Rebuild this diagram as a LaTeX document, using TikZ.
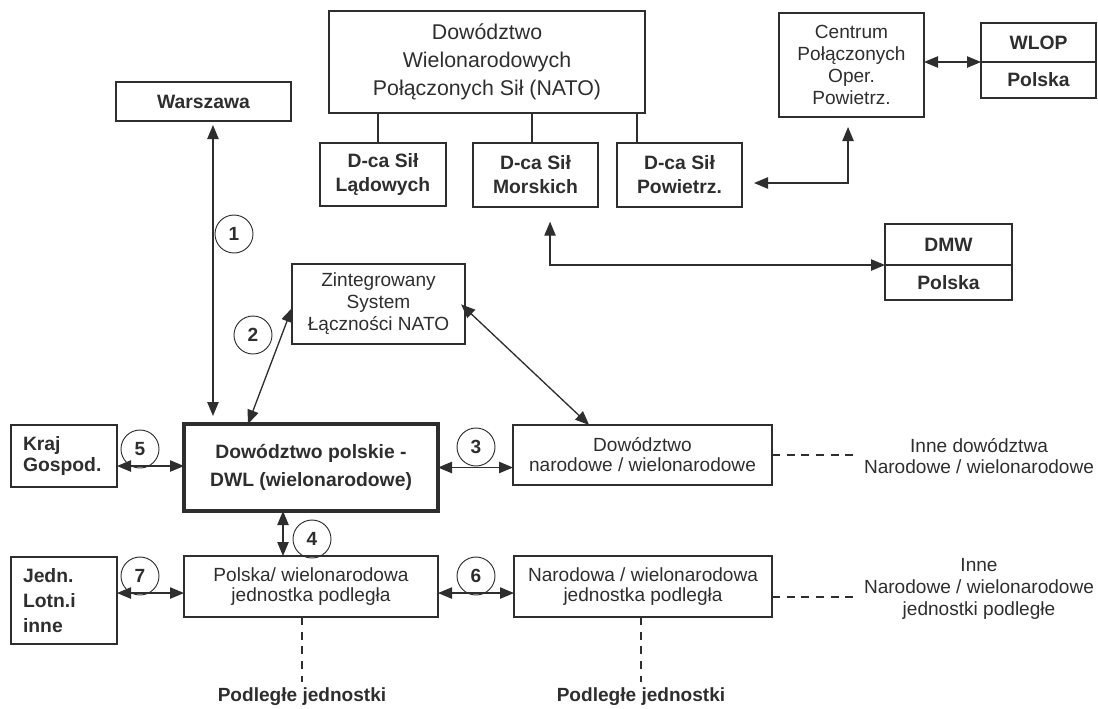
\documentclass[tikz,border=0pt]{standalone}
\usepackage{fontspec}
\setmainfont{Liberation Sans}
\usetikzlibrary{arrows.meta,positioning}

\definecolor{ink}{gray}{0.18}

\begin{document}
\begin{tikzpicture}[x=0.75pt,y=-0.75pt,
    font=\fontsize{14.3}{16.5}\selectfont,
    every node/.style={text=ink},
    box/.style={draw=ink,line width=1pt,align=center,inner sep=0pt,outer sep=0pt},
    leftbox/.style={box,align=left,inner xsep=9pt,text width=61.5pt},
    num/.style={circle,draw=ink,line width=0.7pt,minimum size=28.5pt,inner sep=0pt,font=\bfseries\fontsize{14.3}{16}\selectfont},
    link/.style={draw=ink,{Triangle[length=10.5pt,width=8.5pt]}-{Triangle[length=10.5pt,width=8.5pt]},line width=1pt},
    tie/.style={draw=ink,line width=1pt},
    dashline/.style={draw=ink,line width=1pt,dash pattern=on 6pt off 5pt}]

    \useasboundingbox (0,0) rectangle (1098,708);

    % top row
    \node[box,minimum width=131.25pt,minimum height=29.25pt,font=\bfseries\fontsize{14.5}{16}\selectfont] (war) at (203.5,101.5) {Warszawa};
    \node[box,minimum width=237pt,minimum height=76.5pt,font=\fontsize{16}{21}\selectfont] (nato) at (487,62) {Dowództwo\\Wielonarodowych\\Połączonych Sił (NATO)};
    \node[box,minimum width=94.5pt,minimum height=47.25pt,font=\bfseries\fontsize{14.5}{18}\selectfont] (lad) at (383,174.5) {D-ca Sił\\Lądowych};
    \node[box,minimum width=93.75pt,minimum height=48pt,font=\bfseries\fontsize{14.5}{18}\selectfont] (mor) at (535.5,175) {D-ca Sił\\Morskich};
    \node[box,minimum width=93.75pt,minimum height=48pt,font=\bfseries\fontsize{14.5}{18}\selectfont] (pow) at (679.5,175) {D-ca Sił\\Powietrz.};
    \node[box,minimum width=108.75pt,minimum height=78pt] (cen) at (851.5,65) {Centrum\\Połączonych\\Oper.\\Powietrz.};
    \node[box,minimum width=86.25pt,minimum height=29.25pt,font=\bfseries\fontsize{14.5}{16}\selectfont] (wlop) at (1038.5,42.5) {WLOP};
    \node[box,minimum width=86.25pt,minimum height=27pt,font=\bfseries\fontsize{14.5}{16}\selectfont,below=0pt of wlop] (wlpl) {Polska};
    \node[box,minimum width=95.25pt,minimum height=30.75pt,font=\bfseries\fontsize{14.5}{16}\selectfont] (dmw) at (948.5,244.5) {DMW};
    \node[box,minimum width=95.25pt,minimum height=26.25pt,font=\bfseries\fontsize{14.5}{16}\selectfont,below=0pt of dmw] (dmpl) {Polska};

    % middle
    \node[box,minimum width=129.75pt,minimum height=60pt] (zsl) at (378.5,304) {Zintegrowany\\System\\Łączności NATO};
    \node[leftbox,minimum height=46.5pt,font=\bfseries\fontsize{14.5}{15.5}\selectfont] (kraj) at (64,456) {Kraj\\Gospod.};
    \node[box,line width=3.5pt,minimum width=190.5pt,minimum height=65.25pt,font=\bfseries\fontsize{14.5}{21}\selectfont] (dwl) at (311,467.5) {Dowództwo polskie -\\DWL (wielonarodowe)};
    \node[box,minimum width=194.25pt,minimum height=45pt,font=\fontsize{14.3}{15}\selectfont] (dnar) at (642.5,455) {Dowództwo\\narodowe / wielonarodowe};
    \node[align=center,inner sep=6pt,font=\fontsize{14.3}{15.5}\selectfont] (inne1) at (979,456) {Inne dowództwa\\Narodowe / wielonarodowe};

    % bottom
    \node[leftbox,minimum height=65.25pt,font=\bfseries\fontsize{14.5}{18.75}\selectfont] (jedn) at (64,600.5) {Jedn.\\Lotn.i\\inne};
    \node[box,minimum width=190.5pt,minimum height=45.75pt,font=\fontsize{14.3}{15}\selectfont] (pol) at (311,586.5) {Polska/ wielonarodowa\\jednostka podległa};
    \node[box,minimum width=193.5pt,minimum height=45.75pt,font=\fontsize{14.3}{15}\selectfont] (nnar) at (643,586.5) {Narodowa / wielonarodowa\\jednostka podległa};
    \node[align=center,inner sep=6pt,font=\fontsize{14.3}{16.8}\selectfont] (inne2) at (979,589) {Inne\\Narodowe / wielonarodowe\\jednostki podległe};
    \node[inner sep=4pt,font=\bfseries\fontsize{14.3}{16}\selectfont] (pj1) at (302,697) {Podległe jednostki};
    \node[inner sep=4pt,font=\bfseries\fontsize{14.3}{16}\selectfont] (pj2) at (641,697) {Podległe jednostki};

    % numbered circles
    \node[num] (n1) at (234,234) {1};
    \node[num] (n2) at (253,335) {2};
    \node[num] (n3) at (476,447) {3};
    \node[num] (n4) at (312,539) {4};
    \node[num] (n5) at (140,449) {5};
    \node[num] (n6) at (476,576) {6};
    \node[num] (n7) at (140,576) {7};

    % NATO structure
    \draw[tie] ([xshift=-3.75pt]lad.north) -- ([xshift=-3.75pt]lad.north |- nato.south);
    \draw[tie] ([xshift=-2.6pt]mor.north) -- ([xshift=-2.6pt]mor.north |- nato.south);
    \draw[tie] ([xshift=-31.9pt]pow.north) -- ([xshift=-31.9pt]pow.north |- nato.south);

    % links
    \draw[link] (cen.east |- wlop.south) -- (wlop.south west);
    \draw[link,shorten <=9pt,shorten >=7.5pt] ([yshift=-6pt]pow.east) -| ([xshift=-2.6pt]cen.south);
    \draw[link,shorten <=11pt] ([xshift=10.9pt]mor.south) |- (dmw.south west);
    \draw[link,shorten <=3pt,shorten >=6pt] ([xshift=7.1pt]war.south) -- ([xshift=7.1pt]war.south |- dwl.north);
    \draw[link] ([yshift=-3pt]zsl.west) -- ([xshift=-47.25pt]dwl.north);
    \draw[link,shorten <=-4pt] ([yshift=-3pt]zsl.east) -- ([xshift=-40pt]dnar.north);
    \draw[link] ([yshift=-7.5pt]kraj.east) -- ([yshift=-7.5pt]kraj.east -| dwl.west);
    \draw[link] (dwl.east) -- (dwl.east -| dnar.west);
    \draw[link] ([xshift=-21pt]dwl.south) -- ([xshift=-21pt]pol.north);
    \draw[link] ([yshift=5.6pt]jedn.east) -- ([yshift=5.6pt]jedn.east -| pol.west);
    \draw[link] ([yshift=-4.9pt]pol.east) -- ([yshift=-4.9pt]pol.east -| nnar.west);

    % other units
    \draw[dashline] (dnar.east) -- (dnar.east -| inne1.west);
    \draw[dashline] ([yshift=-7.9pt]nnar.east) -- ([yshift=-7.9pt]nnar.east -| inne2.west);
    \draw[dashline] ([xshift=-6.75pt]pol.south) -- ([xshift=-6.75pt]pol.south |- pj1.north);
    \draw[dashline] ([xshift=-1.5pt]nnar.south) -- ([xshift=-1.5pt]nnar.south |- pj2.north);

\end{tikzpicture}
\end{document}
